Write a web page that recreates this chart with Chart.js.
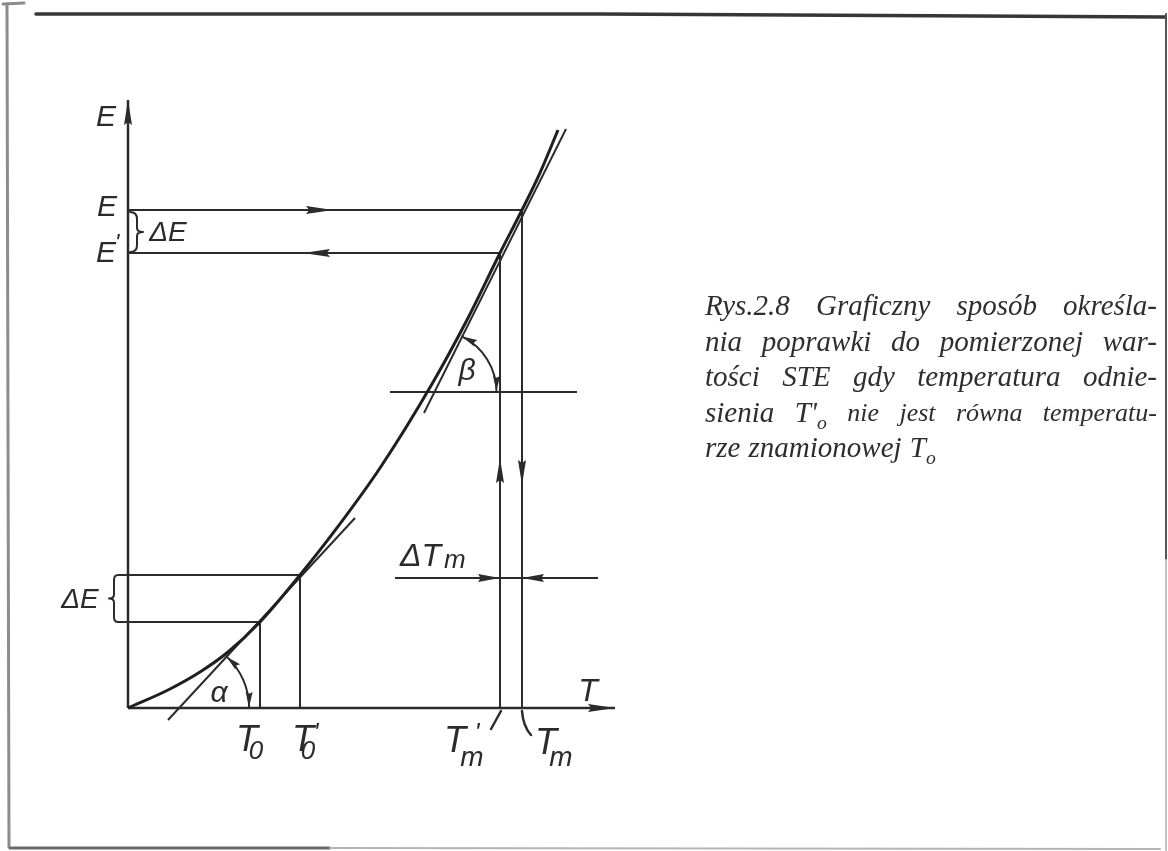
<!DOCTYPE html>
<html lang="pl">
<head>
<meta charset="utf-8">
<title>Rys. 2.8</title>
<script src="https://cdn.jsdelivr.net/npm/chart.js@4.4.1/dist/chart.umd.min.js"></script>
<style>
  html, body { margin: 0; padding: 0; background: #fff; }
  #wrap { position: relative; width: 1168px; height: 851px; overflow: hidden; background: #fff; }
  #fig { position: absolute; left: 0; top: 0; }
  .caption {
    position: absolute; left: 705px; top: 288px; width: 452px;
    font: italic 29px 'Liberation Serif', 'DejaVu Serif', serif;
    color: #2e2e2e; line-height: 35.5px;
  }
  .caption .ln { display: flex; justify-content: space-between; white-space: nowrap; height: 35.5px; }
  .caption .ln.last { justify-content: flex-start; gap: 0.28em; }
  .caption .sm { font-size: 26px; }
  .caption sub { font-size: 68%; vertical-align: -0.35em; line-height: 0; }
</style>
</head>
<body>
<div id="wrap">
  <canvas id="fig" width="1168" height="851"></canvas>
  <div class="caption">
    <div class="ln"><span>Rys.2.8</span><span>Graficzny</span><span>sposób</span><span>określa-</span></div>
    <div class="ln"><span>nia</span><span>poprawki</span><span>do</span><span>pomierzonej</span><span>war-</span></div>
    <div class="ln"><span>tości</span><span>STE</span><span>gdy</span><span>temperatura</span><span>odnie-</span></div>
    <div class="ln"><span>sienia</span><span>T'<sub>o</sub></span><span class="sm">nie</span><span class="sm">jest</span><span class="sm">równa</span><span class="sm">temperatu-</span></div>
    <div class="ln last"><span>rze</span><span>znamionowej</span><span>T<sub>o</sub></span></div>
  </div>
</div>
<script>
// characteristic E(T), read point by point
const curveT = [0, 10, 18, 25, 33, 43, 52, 63, 76, 85, 93, 98.5, 103, 107.5];
const curveE = [0, 4.5, 9, 14, 21.5, 33.25, 44.7, 60, 81, 97.5, 113.75, 124.5, 133.8, 144.5];

// marked temperatures and the matching values on the curve
const T0 = 33, T0p = 43, Tmp = 93, Tm = 98.5;
const E0 = curveE[curveT.indexOf(T0)];
const E0p = curveE[curveT.indexOf(T0p)];
const Ep = curveE[curveT.indexOf(Tmp)];
const Em = curveE[curveT.indexOf(Tm)];

// axes lengths
const tAxisEnd = 121.75;
const eAxisEnd = 152;

// secant for angle alpha, tangent for angle beta
const alphaLineT = [10, 56.75];
const alphaLineE = [-3, 47.5];
const betaLineT = [74, 109.5];
const betaLineE = [73.75, 144.75];

// horizontal helper lines
const betaRefE = 79;
const betaRefT = [65.5, 112.25];
const dTmE = 32.5;
const dTmT = [66.75, 117.5];
const boxT = -2.5;

// arrow tips on the construction lines
const arrowTipE = 51.25;   // on E line, pointing right
const arrowTipEp = 43.75;  // on E' line, pointing left
const arrowUpE = 62.5;     // on T'm line, pointing up
const arrowDownE = 55.75;  // on Tm line, pointing down

const INK = '#2b2b2b';
const FAM = "'Liberation Sans', 'DejaVu Sans', sans-serif";

function pts(ts, es) { return ts.map((t, i) => ({ x: t, y: es[i] })); }
function seg(x1, y1, x2, y2, w) {
  return { data: [{ x: x1, y: y1 }, { x: x2, y: y2 }], borderColor: INK, borderWidth: w || 2 };
}

const datasets = [
  { data: pts(curveT, curveE), borderColor: '#1f1f1f', borderWidth: 3, cubicInterpolationMode: 'monotone' },
  seg(0, 0, tAxisEnd, 0, 2.5),
  seg(0, 0, 0, eAxisEnd, 2.5),
  { data: pts(alphaLineT, alphaLineE), borderColor: INK, borderWidth: 2 },
  { data: pts(betaLineT, betaLineE), borderColor: INK, borderWidth: 2 },
  // E and E' projections
  seg(0, Em, Tm, Em),
  seg(0, Ep, Tmp, Ep),
  seg(Tm, Em, Tm, 0),
  seg(Tmp, Ep, Tmp, 0),
  // T0 and T0' projections
  seg(T0, E0, T0, 0),
  seg(T0p, E0p, T0p, 0),
  seg(boxT, E0, T0, E0),
  seg(boxT, E0p, T0p, E0p),
  // reference for beta and the delta Tm line
  seg(betaRefT[0], betaRefE, betaRefT[1], betaRefE),
  seg(dTmT[0], dTmE, dTmT[1], dTmE)
];
datasets.forEach(d => { d.pointRadius = 0; d.showLine = true; d.fill = false; });

function arrow(ctx, x, y, ang, len, w) {
  const c = Math.cos(ang), s = Math.sin(ang);
  ctx.beginPath();
  ctx.moveTo(x, y);
  ctx.lineTo(x - len * c - w / 2 * s, y - len * s + w / 2 * c);
  ctx.lineTo(x - len * c * 0.88, y - len * s * 0.88);
  ctx.lineTo(x - len * c + w / 2 * s, y - len * s - w / 2 * c);
  ctx.closePath();
  ctx.fill();
}

function label(ctx, s, x, y, size, align) {
  ctx.font = 'italic ' + size + 'px ' + FAM;
  ctx.textAlign = align || 'center';
  ctx.fillText(s, x, y);
}

// angle arc between a line and a horizontal, arrows at both ends
function angleArc(ctx, cx, cy, r, ang) {
  ctx.beginPath();
  ctx.arc(cx, cy, r, ang, 0);
  ctx.stroke();
  arrow(ctx, cx + r, cy - 1, Math.PI / 2, 15, 7);
  const sx = cx + r * Math.cos(ang), sy = cy + r * Math.sin(ang);
  arrow(ctx, sx, sy, ang - Math.PI / 2, 15, 7);
}

const sketch = {
  id: 'sketch',
  beforeDraw(chart) {
    const ctx = chart.ctx;
    ctx.save();
    ctx.fillStyle = '#fff';
    ctx.fillRect(0, 0, chart.width, chart.height);
    // page frame
    ctx.lineCap = 'round';
    ctx.strokeStyle = '#8c8c8c'; ctx.lineWidth = 3;
    ctx.beginPath(); ctx.moveTo(7, 5); ctx.lineTo(9, 847); ctx.stroke();
    ctx.beginPath(); ctx.moveTo(3, 4); ctx.lineTo(24, 3); ctx.stroke();
    ctx.strokeStyle = '#363636'; ctx.lineWidth = 3.5;
    ctx.beginPath(); ctx.moveTo(36, 14); ctx.lineTo(600, 14); ctx.lineTo(1165, 17); ctx.stroke();
    ctx.lineWidth = 2; ctx.strokeStyle = '#555';
    ctx.beginPath(); ctx.moveTo(1166, 14); ctx.lineTo(1166, 560); ctx.stroke();
    ctx.strokeStyle = '#c4c4c4';
    ctx.beginPath(); ctx.moveTo(1166, 560); ctx.lineTo(1166, 851); ctx.stroke();
    ctx.lineWidth = 3; ctx.strokeStyle = '#6a6a6a';
    ctx.beginPath(); ctx.moveTo(10, 848); ctx.lineTo(330, 848); ctx.stroke();
    ctx.strokeStyle = '#b5b5b5'; ctx.lineWidth = 2;
    ctx.beginPath(); ctx.moveTo(330, 848); ctx.lineTo(1160, 849); ctx.stroke();
    ctx.restore();
  },
  afterDatasetsDraw(chart) {
    const ctx = chart.ctx;
    const xs = chart.scales.x, ys = chart.scales.y;
    const px = v => xs.getPixelForValue(v), py = v => ys.getPixelForValue(v);
    ctx.save();
    ctx.fillStyle = INK; ctx.strokeStyle = INK; ctx.lineWidth = 2;
    ctx.lineCap = 'round'; ctx.lineJoin = 'round';

    // axis arrows
    arrow(ctx, px(tAxisEnd), py(0), 0, 27, 8);
    arrow(ctx, px(0), py(eAxisEnd), -Math.PI / 2, 25, 8);
    // flow arrows on the projections
    arrow(ctx, px(arrowTipE), py(Em), 0, 27, 8);
    arrow(ctx, px(arrowTipEp), py(Ep), Math.PI, 27, 8);
    arrow(ctx, px(Tmp), py(arrowUpE), -Math.PI / 2, 25, 8);
    arrow(ctx, px(Tm), py(arrowDownE), Math.PI / 2, 25, 8);
    arrow(ctx, px(Tmp), py(dTmE), 0, 22, 8);
    arrow(ctx, px(Tm), py(dTmE), Math.PI, 22, 8);

    // angle alpha: secant crossing the T axis
    const aSlope = (alphaLineE[1] - alphaLineE[0]) / (alphaLineT[1] - alphaLineT[0]);
    const aT = alphaLineT[0] - alphaLineE[0] / aSlope;
    const aAng = Math.atan2(py(alphaLineE[1]) - py(alphaLineE[0]), px(alphaLineT[1]) - px(alphaLineT[0]));
    angleArc(ctx, px(aT), py(0), 70, aAng);

    // angle beta: tangent crossing the reference line
    const bSlope = (betaLineE[1] - betaLineE[0]) / (betaLineT[1] - betaLineT[0]);
    const bT = betaLineT[0] + (betaRefE - betaLineE[0]) / bSlope;
    const bAng = Math.atan2(py(betaLineE[1]) - py(betaLineE[0]), px(betaLineT[1]) - px(betaLineT[0]));
    angleArc(ctx, px(bT), py(betaRefE), 62, bAng);

    // brace between E and E'
    const bx = px(0) + 2, y1 = py(Em) + 2, y2 = py(Ep) - 1, ym = (y1 + y2) / 2;
    ctx.beginPath();
    ctx.moveTo(bx, y1);
    ctx.quadraticCurveTo(bx + 7, y1, bx + 7, y1 + 7);
    ctx.lineTo(bx + 7, ym - 4);
    ctx.quadraticCurveTo(bx + 7, ym, bx + 13, ym);
    ctx.quadraticCurveTo(bx + 7, ym, bx + 7, ym + 4);
    ctx.lineTo(bx + 7, y2 - 7);
    ctx.quadraticCurveTo(bx + 7, y2, bx, y2);
    ctx.stroke();

    // brace on the left of the lower delta E box
    const lx = px(boxT), l1 = py(E0p), l2 = py(E0), lm = (l1 + l2) / 2;
    ctx.beginPath();
    ctx.moveTo(lx, l1);
    ctx.quadraticCurveTo(lx - 4, l1, lx - 4, l1 + 5);
    ctx.lineTo(lx - 4, lm - 4);
    ctx.quadraticCurveTo(lx - 4, lm, lx - 9, lm);
    ctx.quadraticCurveTo(lx - 4, lm, lx - 4, lm + 4);
    ctx.lineTo(lx - 4, l2 - 5);
    ctx.quadraticCurveTo(lx - 4, l2, lx, l2);
    ctx.stroke();

    // leaders from the axis to T'm and Tm
    ctx.lineWidth = 2.5;
    ctx.beginPath(); ctx.moveTo(px(Tmp) + 1, py(0) + 3); ctx.lineTo(px(Tmp) - 9, py(0) + 21); ctx.stroke();
    ctx.beginPath(); ctx.moveTo(px(Tm), py(0) + 3);
    ctx.quadraticCurveTo(px(Tm) + 1, py(0) + 18, px(Tm) + 9, py(0) + 27); ctx.stroke();

    // lettering
    ctx.textBaseline = 'middle';
    label(ctx, 'E', px(0) - 22, py(eAxisEnd) + 18, 30);
    label(ctx, 'E', px(0) - 21, py(Em) - 2, 30);
    label(ctx, 'E', px(0) - 22, py(Ep) + 1, 30);
    label(ctx, '\'', px(0) - 11, py(Ep) - 9, 24);
    label(ctx, 'ΔE', px(0) + 40, py((Em + Ep) / 2) + 2, 28);
    label(ctx, 'ΔE', px(boxT) - 38, py((E0 + E0p) / 2) + 2, 28);
    label(ctx, 'α', px(aT) + 40, py(0) - 14, 30);
    label(ctx, 'β', px(Tmp) - 33, py(betaRefE) - 20, 30);
    label(ctx, 'T', px(tAxisEnd) - 27, py(0) - 16, 32);

    label(ctx, 'T', px(T0) - 13, py(0) + 33, 36);
    label(ctx, '0', px(T0) - 4, py(0) + 44, 26);
    label(ctx, 'T', px(T0p) + 3, py(0) + 33, 36);
    label(ctx, '0', px(T0p) + 8, py(0) + 44, 26);
    label(ctx, '\'', px(T0p) + 16, py(0) + 26, 26);
    label(ctx, 'T', px(Tmp) - 45, py(0) + 34, 36);
    label(ctx, '\'', px(Tmp) - 23, py(0) + 26, 26);
    label(ctx, 'm', px(Tmp) - 28, py(0) + 50, 28);
    label(ctx, 'T', px(Tm) + 24, py(0) + 36, 36);
    label(ctx, 'm', px(Tm) + 39, py(0) + 50, 28);

    label(ctx, 'ΔT', px(dTmT[0]) + 5, py(dTmE) - 21, 32, 'left');
    label(ctx, 'm', px(dTmT[0]) + 49, py(dTmE) - 17, 26, 'left');
    ctx.restore();
  }
};

new Chart(document.getElementById('fig'), {
  type: 'scatter',
  data: { datasets: datasets },
  options: {
    responsive: false,
    animation: false,
    events: [],
    layout: { padding: 0 },
    plugins: { legend: { display: false }, tooltip: { enabled: false } },
    scales: {
      x: { type: 'linear', display: false, min: -32, max: 260 },
      y: { type: 'linear', display: false, min: -35.75, max: 177 }
    }
  },
  plugins: [sketch]
});
</script>
</body>
</html>
